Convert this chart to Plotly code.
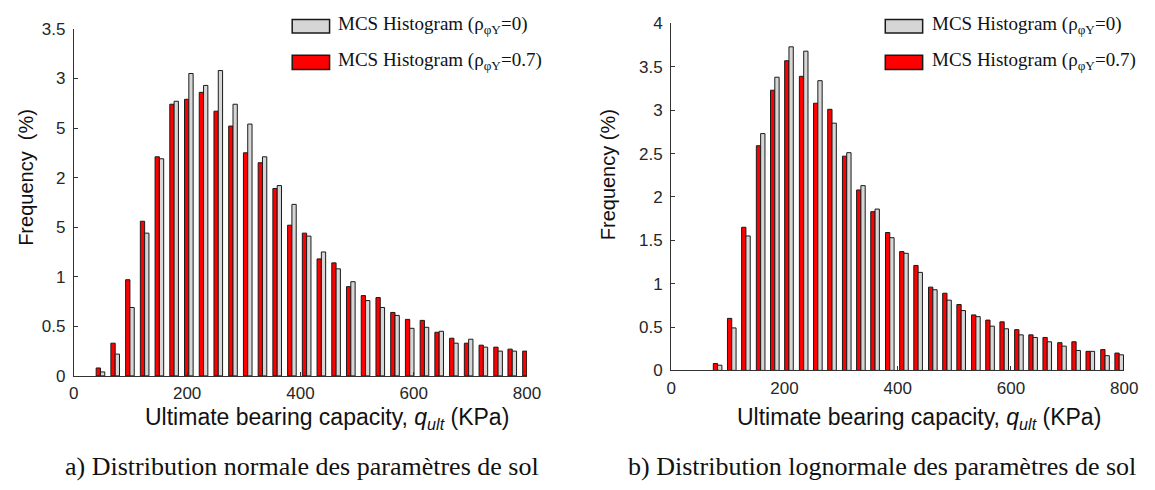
import plotly.graph_objects as go

# ---- a) normal soil parameters: histogram bin centres (KPa) and frequencies (%)
bins_a = [47, 73, 99, 125, 151, 177, 203, 229, 255, 281, 307, 333, 359, 385, 411,
          437, 463, 489, 515, 541, 567, 593, 619, 645, 671, 697, 723, 749, 774, 800]
freq_a_rho0 = [0.04, 0.22, 0.69, 1.44, 2.19, 2.77, 3.05, 2.93, 3.08, 2.74, 2.54, 2.21, 1.92, 1.73, 1.41,
               1.25, 1.08, 0.95, 0.76, 0.69, 0.61, 0.48, 0.49, 0.45, 0.33, 0.37, 0.29, 0.25, 0.25, 0.24]
freq_a_rho07 = [0.08, 0.33, 0.97, 1.56, 2.21, 2.74, 2.79, 2.86, 2.67, 2.52, 2.25, 2.15, 1.89, 1.52, 1.44,
                1.18, 1.14, 0.90, 0.81, 0.79, 0.64, 0.57, 0.56, 0.44, 0.38, 0.33, 0.31, 0.29, 0.27, 0.25]

# ---- b) lognormal soil parameters
bins_b = [82, 107, 132, 158, 183, 208, 234, 259, 284, 310, 335, 360, 386, 411, 436,
          462, 487, 512, 538, 563, 588, 614, 639, 664, 690, 715, 740, 766, 791]
freq_b_rho0 = [0.06, 0.49, 1.55, 2.73, 3.38, 3.73, 3.68, 3.34, 2.85, 2.51, 2.13, 1.86, 1.53, 1.35, 1.13,
               0.93, 0.81, 0.69, 0.62, 0.51, 0.48, 0.41, 0.38, 0.33, 0.28, 0.23, 0.22, 0.17, 0.18]
freq_b_rho07 = [0.08, 0.60, 1.65, 2.59, 3.23, 3.57, 3.39, 3.08, 3.01, 2.47, 2.08, 1.83, 1.59, 1.37, 1.21,
                0.96, 0.89, 0.76, 0.64, 0.58, 0.56, 0.47, 0.41, 0.38, 0.32, 0.33, 0.22, 0.24, 0.20]

x_ticks = [0, 200, 400, 600, 800]
y_ticks_a = [0, 0.5, 1, 1.5, 2, 2.5, 3, 3.5]
y_ticktext_a = ["0", "0.5", "1", "5", "2", "5", "3", "3.5"]
y_ticks_b = [0, 0.5, 1, 1.5, 2, 2.5, 3, 3.5, 4]
y_ticktext_b = ["0", "0.5", "1", "1.5", "2", "2.5", "3", "3.5", "4"]

legend_rho0 = "MCS Histogram (ρ<sub>φΥ</sub>=0)"
legend_rho07 = "MCS Histogram (ρ<sub>φΥ</sub>=0.7)"
caption_a = "a) Distribution normale des paramètres de sol"
caption_b = "b) Distribution lognormale des paramètres de sol"

W, H = 1155, 490
GREY = "#d6d6d6"
RED = "#ff0000"
EDGE = "#1a1a1a"
BAR_W = 7.6

SANS = "Arial, Liberation Sans, sans-serif"
SERIF = "Times New Roman, Liberation Serif, serif"


def px(x):
    return x / W


def py(y):
    return 1 - y / H


fig = go.Figure()

for bins, red, grey, xa, ya in [
    (bins_a, freq_a_rho07, freq_a_rho0, "x", "y"),
    (bins_b, freq_b_rho07, freq_b_rho0, "x2", "y2"),
]:
    fig.add_trace(go.Bar(x=bins, y=red, width=BAR_W, offset=-BAR_W,
                         marker=dict(color=RED, line=dict(color=EDGE, width=1)),
                         xaxis=xa, yaxis=ya, showlegend=False))
    fig.add_trace(go.Bar(x=bins, y=grey, width=BAR_W, offset=0,
                         marker=dict(color=GREY, line=dict(color=EDGE, width=1)),
                         xaxis=xa, yaxis=ya, showlegend=False))

axis_common = dict(
    showgrid=False, zeroline=False, showline=True, linecolor="#333333", linewidth=1,
    ticks="inside", ticklen=4, tickcolor="#333333",
    tickfont=dict(family=SANS, size=17, color="#262626"),
)

fig.update_layout(
    width=W, height=H,
    margin=dict(l=0, r=0, t=0, b=0),
    paper_bgcolor="white", plot_bgcolor="white",
    barmode="overlay",
    xaxis=dict(domain=[px(70), px(530.7)], range=[0, 800], tickvals=x_ticks,
               anchor="y", ticklabelstandoff=2, **axis_common),
    yaxis=dict(domain=[py(381.7), py(20.7)], range=[0, 3.5], tickvals=y_ticks_a,
               ticktext=y_ticktext_a, anchor="x", ticklabelstandoff=4, **axis_common),
    xaxis2=dict(domain=[px(677.3), px(1138)], range=[0, 800], tickvals=x_ticks,
                anchor="y2", ticklabelstandoff=2, **axis_common),
    yaxis2=dict(domain=[py(376), py(15)], range=[0, 4], tickvals=y_ticks_b,
                ticktext=y_ticktext_b, anchor="x2", ticklabelstandoff=4, **axis_common),
)

shapes = []
annotations = []

# legend boxes and labels for each panel
for sx, tx in [(292, 337), (895, 940)]:
    shapes.append(dict(type="rect", xref="paper", yref="paper",
                       x0=px(sx), x1=px(sx + 38), y0=py(25), y1=py(11),
                       fillcolor=GREY, line=dict(color=EDGE, width=1.5)))
    shapes.append(dict(type="rect", xref="paper", yref="paper",
                       x0=px(sx), x1=px(sx + 38), y0=py(63), y1=py(48),
                       fillcolor=RED, line=dict(color=EDGE, width=1.5)))
    annotations.append(dict(text=legend_rho0, xref="paper", yref="paper",
                            x=px(tx), y=py(16.5), xanchor="left", yanchor="middle",
                            showarrow=False, font=dict(family=SERIF, size=19, color="#111111")))
    annotations.append(dict(text=legend_rho07, xref="paper", yref="paper",
                            x=px(tx), y=py(54), xanchor="left", yanchor="middle",
                            showarrow=False, font=dict(family=SERIF, size=19, color="#111111")))

# axis titles
xtitle = "Ultimate bearing capacity, <i>q<sub>ult</sub></i> (KPa)"
for cx in (327, 929):
    annotations.append(dict(text=xtitle, xref="paper", yref="paper",
                            x=px(cx), y=py(426), xanchor="center", yanchor="middle",
                            showarrow=False, font=dict(family=SANS, size=23, color="#111111")))

for cx, cy, txt in [(22, 175, "Frequency  (%)"), (613, 172, "Frequency (%)")]:
    annotations.append(dict(text=txt, xref="paper", yref="paper",
                            x=px(cx), y=py(cy), xanchor="center", yanchor="middle",
                            textangle=-90, showarrow=False,
                            font=dict(family=SANS, size=20, color="#111111")))

# panel captions
for cx, txt in [(302, caption_a), (892, caption_b)]:
    annotations.append(dict(text=txt, xref="paper", yref="paper",
                            x=px(cx), y=py(476), xanchor="center", yanchor="middle",
                            showarrow=False, font=dict(family=SERIF, size=26, color="#111111")))

fig.update_layout(shapes=shapes, annotations=annotations)

fig.write_html("out.html")
